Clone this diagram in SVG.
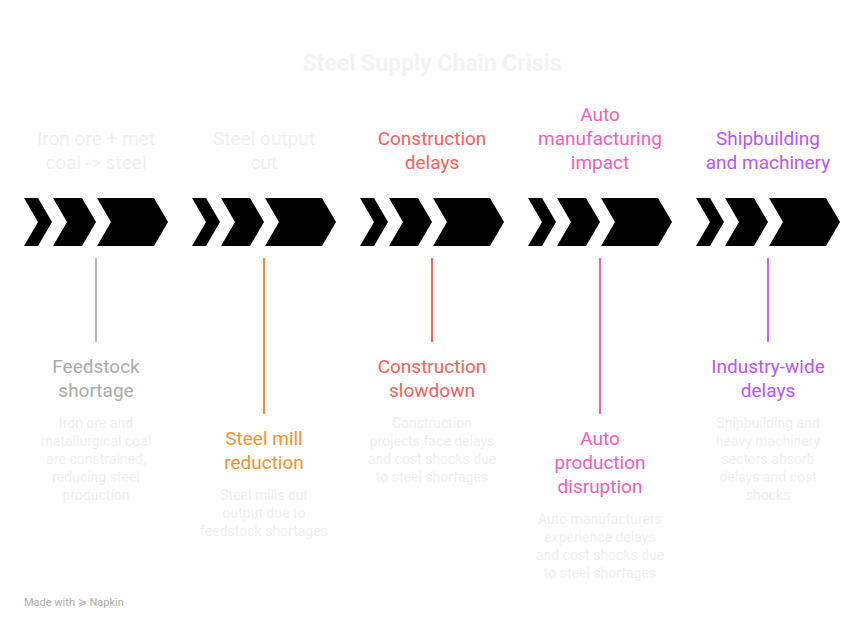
<svg xmlns="http://www.w3.org/2000/svg" width="864" height="630" viewBox="0 0 864 630">
<style>
text{font-family:Roboto,"Liberation Sans",sans-serif;text-anchor:middle}
.h{font-size:19px}
.d{font-size:14px;fill:#efefef}
.t{font-size:23px;font-weight:bold;fill:#f3f3f3}
.ch{stroke-width:2.5;stroke-linejoin:round}
.g .ch{fill:#505050;stroke:#b4b4b4}
.o .ch{fill:#5e4a38;stroke:#f5922f}
.r .ch{fill:#6b433d;stroke:#f5655a}
.m .ch{fill:#6a3f58;stroke:#f060b8}
.p .ch{fill:#5c416a;stroke:#c066f0}
.ln{stroke-width:2}
</style>
<defs>
<g id="chev">
<path class="ch" d="M24,198H38L52,222L38,246H24L38,222Z M38,222H52"/>
<path class="ch" d="M53,198H82L96,222L82,246H53L67,222Z M67,222H96"/>
<path class="ch" d="M97,198H154L168,222L154,246H97L111,222Z M111,222H168"/>
</g>
</defs>
<text class="t" x="432" y="71">Steel Supply Chain Crisis</text>
<g id="connectors">
<line class="ln" x1="96" y1="258" x2="96" y2="342" stroke="#b4b4b4"/>
<line class="ln" x1="264" y1="258" x2="264" y2="414" stroke="#f5922f"/>
<line class="ln" x1="432" y1="258" x2="432" y2="342" stroke="#f5655a"/>
<line class="ln" x1="600" y1="258" x2="600" y2="414" stroke="#f060b8"/>
<line class="ln" x1="768" y1="258" x2="768" y2="342" stroke="#c066f0"/>
</g>
<g id="n1" class="g">
<use href="#chev"/>
<text class="h" fill="#f0f0f0"><tspan x="96" y="145">Iron ore + met</tspan><tspan x="96" y="169">coal -&gt; steel</tspan></text>
<text class="h" fill="#aaaaaa"><tspan x="96" y="373">Feedstock</tspan><tspan x="96" y="397">shortage</tspan></text>
<text class="d"><tspan x="96" y="428">Iron ore and</tspan><tspan x="96" y="446">metallurgical coal</tspan><tspan x="96" y="464">are constrained,</tspan><tspan x="96" y="482">reducing steel</tspan><tspan x="96" y="500">production</tspan></text>
</g>
<g id="n2" class="o">
<use href="#chev" x="168"/>
<text class="h" fill="#f0f0f0"><tspan x="264" y="145">Steel output</tspan><tspan x="264" y="169">cut</tspan></text>
<text class="h" fill="#f39131"><tspan x="264" y="445">Steel mill</tspan><tspan x="264" y="469">reduction</tspan></text>
<text class="d"><tspan x="264" y="500">Steel mills cut</tspan><tspan x="264" y="518">output due to</tspan><tspan x="264" y="536">feedstock shortages</tspan></text>
</g>
<g id="n3" class="r">
<use href="#chev" x="336"/>
<text class="h" fill="#f25f5c"><tspan x="432" y="145">Construction</tspan><tspan x="432" y="169">delays</tspan></text>
<text class="h" fill="#f25f5c"><tspan x="432" y="373">Construction</tspan><tspan x="432" y="397">slowdown</tspan></text>
<text class="d"><tspan x="432" y="428">Construction</tspan><tspan x="432" y="446">projects face delays</tspan><tspan x="432" y="464">and cost shocks due</tspan><tspan x="432" y="482">to steel shortages</tspan></text>
</g>
<g id="n4" class="m">
<use href="#chev" x="504"/>
<text class="h" fill="#f05eb8"><tspan x="600" y="121">Auto</tspan><tspan x="600" y="145">manufacturing</tspan><tspan x="600" y="169">impact</tspan></text>
<text class="h" fill="#f05eb8"><tspan x="600" y="445">Auto</tspan><tspan x="600" y="469">production</tspan><tspan x="600" y="493">disruption</tspan></text>
<text class="d"><tspan x="600" y="524">Auto manufacturers</tspan><tspan x="600" y="542">experience delays</tspan><tspan x="600" y="560">and cost shocks due</tspan><tspan x="600" y="578">to steel shortages</tspan></text>
</g>
<g id="n5" class="p">
<use href="#chev" x="672"/>
<text class="h" fill="#bb55f0"><tspan x="768" y="145">Shipbuilding</tspan><tspan x="768" y="169">and machinery</tspan></text>
<text class="h" fill="#bb55f0"><tspan x="768" y="373">Industry-wide</tspan><tspan x="768" y="397">delays</tspan></text>
<text class="d"><tspan x="768" y="428">Shipbuilding and</tspan><tspan x="768" y="446">heavy machinery</tspan><tspan x="768" y="464">sectors absorb</tspan><tspan x="768" y="482">delays and cost</tspan><tspan x="768" y="500">shocks</tspan></text>
</g>
<text x="24" y="606" style="font-size:11px;text-anchor:start;fill:#aaaaaa">Made with ≽ Napkin</text>
</svg>
